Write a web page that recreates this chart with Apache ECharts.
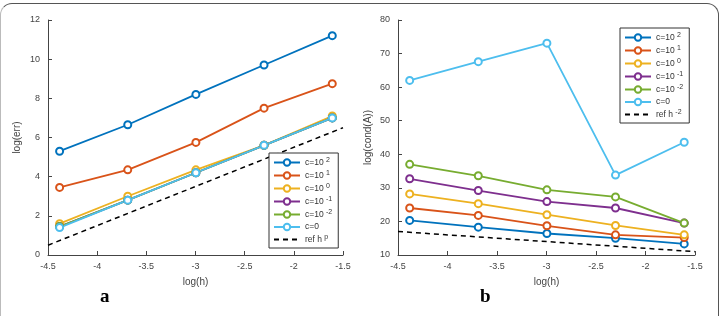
<!DOCTYPE html>
<html>
<head>
<meta charset="utf-8">
<script src="https://cdn.jsdelivr.net/npm/echarts@6/dist/echarts.min.js"></script>
<style>
  html, body { margin: 0; padding: 0; background: #fff; overflow: hidden; }
  #frame { position: absolute; left: 0; top: 3px; width: 719px; height: 330px;
           border: 1.5px solid #555; border-left-color: #bbb; border-radius: 12px; box-sizing: border-box; }
  #chart { position: absolute; left: 0; top: 0; width: 721px; height: 316px; }
  .lab { position: absolute; font-family: "Liberation Serif", serif; font-weight: bold; font-size: 19px; }
</style>
</head>
<body>
<div id="frame"></div>
<div id="chart"></div>
<div class="lab" style="left:100px;top:285px;">a</div>
<div class="lab" style="left:480px;top:285px;">b</div>
<script>
// log(h) for h = 1/80, 1/40, 1/20, 1/10, 1/5
var logH = [-4.382, -3.689, -2.996, -2.303, -1.609];
var names = ['c=10^2', 'c=10^1', 'c=10^0', 'c=10^-1', 'c=10^-2', 'c=0'];
var colors = ['#0072BD', '#D95319', '#EDB120', '#7E2F8E', '#77AC30', '#4DBEEE'];

// panel a: log(err)
var errA = [
  [5.3, 6.65, 8.2, 9.7, 11.2],
  [3.45, 4.35, 5.75, 7.5, 8.75],
  [1.6, 3.0, 4.35, 5.6, 7.1],
  [1.45, 2.8, 4.2, 5.6, 7.0],
  [1.45, 2.8, 4.2, 5.6, 7.0],
  [1.4, 2.8, 4.2, 5.6, 7.0]
];
var refA = [[-4.5, 0.5], [-1.5, 6.5]];

// panel b: log(cond(A))
var condB = [
  [20.3, 18.3, 16.4, 15.0, 13.3],
  [24.0, 21.8, 18.7, 16.0, 15.2],
  [28.2, 25.3, 22.0, 18.8, 16.0],
  [32.7, 29.2, 25.9, 24.0, 19.5],
  [37.0, 33.6, 29.4, 27.3, 19.5],
  [62.0, 67.6, 73.1, 33.8, 43.6]
];
var refB = [[-4.5, 17.0], [-1.5, 11.0]];

var chart = echarts.init(document.getElementById('chart'));

function fmtName(name) {
  if (name.indexOf('^') < 0) return name;
  var p = name.split('^');
  return p[0] + ' {s|' + p[1] + '}';
}

var font = 'Liberation Sans';
var axisCommon = {
  axisLine: { lineStyle: { color: '#444', width: 1 } },
  axisTick: { inside: true, length: 4, lineStyle: { color: '#444' } },
  axisLabel: { color: '#444', fontSize: 9, fontFamily: font },
  splitLine: { show: false },
  nameLocation: 'middle',
  nameTextStyle: { color: '#444', fontSize: 10, fontFamily: font }
};

function xAx(i) {
  return Object.assign({}, axisCommon, {
    type: 'value', gridIndex: i, min: -4.5, max: -1.5, interval: 0.5,
    name: 'log(h)', nameGap: 22,
    axisLabel: Object.assign({}, axisCommon.axisLabel, { margin: 7 })
  });
}

var series = [];
names.forEach(function (n, k) {
  series.push({
    name: n, type: 'line', xAxisIndex: 0, yAxisIndex: 0,
    data: logH.map(function (x, j) { return [x, errA[k][j]]; }),
    color: colors[k], symbol: 'emptyCircle', symbolSize: 7,
    lineStyle: { width: 1.8 }, itemStyle: { borderWidth: 1.6 }
  });
});
series.push({
  name: 'ref h^p', type: 'line', xAxisIndex: 0, yAxisIndex: 0, data: refA,
  color: '#000', symbol: 'none', lineStyle: { type: [5, 4], width: 1.5 }
});
names.forEach(function (n, k) {
  series.push({
    name: n, type: 'line', xAxisIndex: 1, yAxisIndex: 1,
    data: logH.map(function (x, j) { return [x, condB[k][j]]; }),
    color: colors[k], symbol: 'emptyCircle', symbolSize: 7,
    lineStyle: { width: 1.8 }, itemStyle: { borderWidth: 1.6 }
  });
});
series.push({
  name: 'ref h^-2', type: 'line', xAxisIndex: 1, yAxisIndex: 1, data: refB,
  color: '#000', symbol: 'none', lineStyle: { type: [5, 4], width: 1.5 }
});

function legendAt(left, top, refName) {
  var list = names.slice();
  list.push({ name: refName, itemStyle: { opacity: 0 } });
  return {
    orient: 'vertical', left: left, top: top, data: list,
    itemWidth: 26, itemHeight: 8, itemGap: 2,
    padding: [4, 6, 3, 4],
    borderColor: '#333', borderWidth: 1, backgroundColor: '#fff',
    selectedMode: false,
    formatter: fmtName,
    textStyle: {
      color: '#333', fontSize: 8.5, fontFamily: font, lineHeight: 10,
      rich: { s: { fontSize: 7, lineHeight: 7, padding: [0, 0, 4, 0], color: '#333', fontFamily: font } }
    }
  };
}

var option = {
  animation: false,
  grid: [
    { left: 48, top: 20, width: 295, height: 235 },
    { left: 398, top: 20, width: 297, height: 235 }
  ],
  xAxis: [xAx(0), xAx(1)],
  yAxis: [
    Object.assign({}, axisCommon, { type: 'value', gridIndex: 0, min: 0, max: 12, interval: 2,
      name: 'log(err)', nameGap: 26 }),
    Object.assign({}, axisCommon, { type: 'value', gridIndex: 1, min: 10, max: 80, interval: 10,
      name: 'log(cond(A))', nameGap: 25 })
  ],
  legend: [
    legendAt(269, 153, 'ref h^p'),
    legendAt(620, 28, 'ref h^-2')
  ],
  series: series
};
chart.setOption(option);
</script>
</body>
</html>
